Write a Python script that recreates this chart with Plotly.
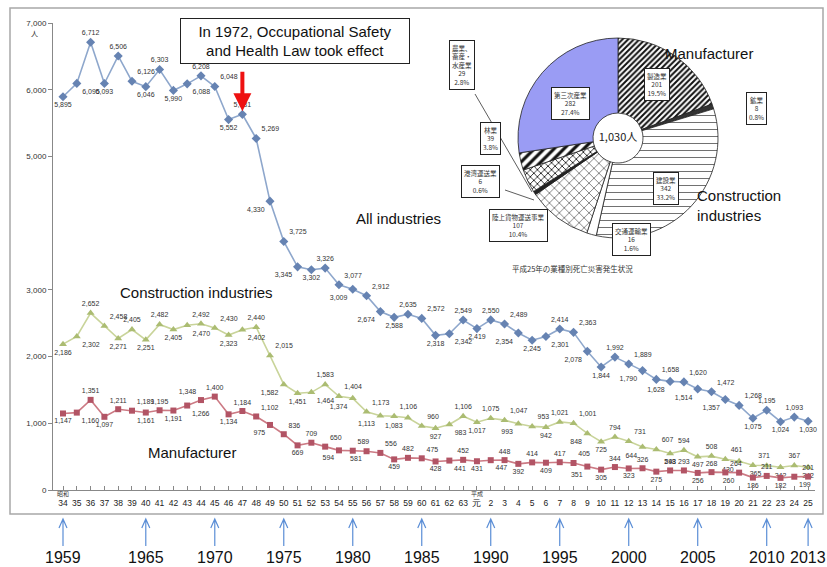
import plotly.graph_objects as go

# ---------------- data ----------------
years = list(range(1959, 2014))
era_ticks = [str(n) for n in range(34, 64)] + ["元"] + [str(n) for n in range(2, 26)]

all_industries = [5895, 6095, 6712, 6093, 6506, 6126, 6046, 6303, 5990, 6088,
                  6208, 6048, 5552, 5631, 5269, 4330, 3725, 3345, 3302, 3326,
                  3077, 3009, 2912, 2674, 2588, 2635, 2572, 2318, 2342, 2549,
                  2419, 2550, 2489, 2354, 2245, 2301, 2414, 2363, 2078, 1844,
                  1992, 1889, 1790, 1658, 1628, 1620, 1514, 1472, 1357, 1268,
                  1075, 1195, 1024, 1093, 1030]
construction = [2186, 2302, 2652, 2458, 2271, 2405, 2251, 2482, 2405, 2470,
                2492, 2430, 2323, 2402, 2440, 2015, 1582, 1451, 1464, 1583,
                1404, 1374, 1173, 1113, 1106, 1083, 960, 927, 983, 1106,
                1017, 1075, 1047, 993, 953, 942, 1021, 1001, 848, 725,
                794, 731, 644, 607, 548, 594, 497, 508, 461, 430,
                371, 365, 342, 367, 342]
manufacturer = [1147, 1160, 1351, 1097, 1211, 1189, 1161, 1195, 1191, 1266,
                1348, 1400, 1134, 1184, 1102, 975, 836, 669, 709, 650,
                594, 589, 581, 556, 459, 482, 475, 428, 441, 452,
                431, 447, 448, 392, 414, 409, 417, 405, 351, 305,
                344, 323, 326, 275, 293, 293, 256, 268, 264, 260,
                186, 211, 182, 199, 201]

y_ticks = [0, 1000, 2000, 3000, 5000, 6000, 7000]
arrow_years = [1959, 1965, 1970, 1975, 1980, 1985, 1990, 1995, 2000, 2005, 2010, 2013]

pie_labels = ["製造業", "鉱業", "建設業", "交通運輸業", "陸上貨物運送事業",
              "港湾運送業", "林業", "農業、<br>畜産・<br>水産業", "第三次産業"]
pie_values = [201, 8, 342, 16, 107, 6, 39, 29, 282]
pie_pcts = ["19.5%", "0.8%", "33.2%", "1.6%", "10.4%", "0.6%", "3.8%", "2.8%", "27.4%"]
pie_total_text = "1,030人"
pie_title = "平成25年の業種別死亡災害発生状況"

# ---------------- layout helpers ----------------
W, H = 827, 567
L, R, T, B = 53, 12, 23, 77
PW, PH = W - L - R, H - T - B


def px(x):
    return (x - L) / PW


def py(y):
    return (H - B - y) / PH


def label_positions(vals):
    out = []
    n = len(vals)
    flip = False
    prev_kind = None
    for i, v in enumerate(vals):
        p = vals[i - 1] if i > 0 else None
        q = vals[i + 1] if i < n - 1 else None
        is_max = (p is None or v >= p) and (q is None or v >= q)
        is_min = (p is None or v <= p) and (q is None or v <= q)
        if is_max:
            out.append("top center")
            kind = "max"
        elif is_min:
            out.append("bottom center")
            kind = "min"
        else:
            kind = "down" if p > v > q else "up"
            flip = (not flip) if kind == prev_kind else False
            if kind == "down":
                out.append("bottom left" if flip else "top right")
            else:
                out.append("top left" if flip else "bottom right")
        prev_kind = kind
    return out


FONT = "Liberation Sans, Arial, Noto Sans CJK JP, sans-serif"
NARROW = "Liberation Sans Narrow, Arial Narrow, Liberation Sans, sans-serif"
CJK = "Noto Sans CJK JP, sans-serif"

fig = go.Figure()

series = [
    (all_industries, "diamond", 7, "#8ea7cc", "#6683b2"),
    (construction, "triangle-up", 7, "#c9d49a", "#abbc72"),
    (manufacturer, "square", 6, "#cc7a84", "#b25465"),
]
for vals, sym, size, lc, mc in series:
    fig.add_trace(go.Scatter(
        x=years, y=vals, mode="lines+markers+text",
        line=dict(color=lc, width=1.6),
        marker=dict(symbol=sym, size=size, color=mc),
        text=[f"{v:,}" for v in vals],
        textposition=label_positions(vals),
        textfont=dict(size=7, color="#333", family=NARROW),
        cliponaxis=False, showlegend=False, hoverinfo="skip",
    ))

# pie chart inset
pcx, pcy, pr = 618, 138, 100
fig.add_trace(go.Pie(
    labels=[l.replace("<br>", "") for l in pie_labels], values=pie_values,
    sort=False, direction="clockwise", rotation=0, hole=0.25,
    textinfo="none", showlegend=False, hoverinfo="skip",
    domain=dict(x=[px(pcx - pr), px(pcx + pr)], y=[py(pcy + pr), py(pcy - pr)]),
    marker=dict(
        colors=["white", "#333", "white", "white", "white", "#222", "white", "white", "#9a9cf4"],
        line=dict(color="#222", width=0.8),
        pattern=dict(
            shape=["/", "", "-", "", "x", "", "x", "/", ""],
            fgcolor=["#111", "#111", "#333", "#111", "#222", "#111", "#111", "#111", "#111"],
            size=[4, 4, 7, 4, 7, 4, 5, 7, 4],
            solidity=[0.5, 0.3, 0.1, 0.3, 0.15, 0.3, 0.3, 0.45, 0.3],
        ),
    ),
    title=dict(text=pie_total_text, position="middle center",
               font=dict(size=11, color="#222", family=CJK)),
))

annotations = []
shapes = []

# pie callout boxes (pixel centres)
box_pos = [(657, 84), (756, 109), (666, 188), (631, 240), (518, 225),
           (480, 181), (490, 138), (462, 65), (570, 104)]
for lab, v, pc, (bx, by) in zip(pie_labels, pie_values, pie_pcts, box_pos):
    annotations.append(dict(
        x=px(bx), y=py(by), xref="paper", yref="paper", showarrow=False,
        xanchor="center", yanchor="middle",
        text=f"{lab}<br>{v}<br>{pc}", align="center",
        font=dict(size=6.5, color="#333", family=CJK),
        bgcolor="white", bordercolor="#222", borderwidth=1, borderpad=2,
    ))

# leader lines for small slices
for (x0, y0, x1, y1) in [(475, 94, 532, 192), (505, 190, 534, 200)]:
    shapes.append(dict(type="line", xref="paper", yref="paper",
                       x0=px(x0), y0=py(y0), x1=px(x1), y1=py(y1),
                       line=dict(color="#333", width=0.8)))

annotations.append(dict(x=px(572), y=py(268), xref="paper", yref="paper",
                        xanchor="center", yanchor="middle",
                        showarrow=False, text=pie_title,
                        font=dict(size=7.5, color="#333", family=CJK)))

# english labels
for txt, x, y, anc in [("Manufacturer", 663, 54, "left"),
                       ("Construction<br>industries", 695, 206, "left"),
                       ("All industries", 398, 218, "center"),
                       ("Construction industries", 196, 292, "center"),
                       ("Manufacturer", 192, 452, "center")]:
    annotations.append(dict(x=px(x), y=py(y), xref="paper", yref="paper",
                            showarrow=False, text=txt, xanchor=anc, yanchor="middle",
                            align="left",
                            font=dict(size=15, color="#111", family=FONT)))

# 1972 annotation box and red arrow
annotations.append(dict(
    x=px(295), y=py(41), xref="paper", yref="paper", showarrow=False,
    xanchor="center", yanchor="middle",
    text="In 1972, Occupational Safety<br>and Health Law took effect",
    font=dict(size=15, color="#111", family=FONT), width=222, height=38,
    bgcolor="white", bordercolor="#222", borderwidth=1, borderpad=3,
))
annotations.append(dict(
    x=1972, y=all_industries[years.index(1972)], xref="x", yref="y",
    ax=0, ay=-44, showarrow=True, arrowhead=2, arrowsize=0.9, arrowwidth=4,
    arrowcolor="#ee1111", standoff=3, text="",
))

# era labels and unit
annotations.append(dict(x=1959, y=py(493), xref="x", yref="paper", showarrow=False,
                        xanchor="center", yanchor="middle",
                        text="昭和", font=dict(size=6, color="#333", family=CJK)))
annotations.append(dict(x=1989, y=py(493), xref="x", yref="paper", showarrow=False,
                        xanchor="center", yanchor="middle",
                        text="平成", font=dict(size=6, color="#333", family=CJK)))
annotations.append(dict(x=px(34), y=py(33), xref="paper", yref="paper", showarrow=False,
                        xanchor="center", yanchor="middle",
                        text="人", font=dict(size=7, color="#333", family=CJK)))

# blue arrows and western year labels
for yr in arrow_years:
    shapes.append(dict(
        type="path", xref="x", yref="paper", xsizemode="pixel", xanchor=yr,
        path=f"M0,{py(546)} L0,{py(519)} M-4,{py(528)} L0,{py(519)} L4,{py(528)}",
        line=dict(color="#5b8ed6", width=1.2),
    ))
    annotations.append(dict(x=yr, y=py(557), xref="x", yref="paper", showarrow=False,
                            xanchor="center", yanchor="middle",
                            text=str(yr), font=dict(size=16, color="#111", family=NARROW)))

# outer frame
shapes.append(dict(type="rect", xref="paper", yref="paper",
                   x0=px(10), x1=px(823), y0=py(514), y1=py(8),
                   line=dict(color="#a8a8a8", width=1.5), layer="below"))

fig.update_layout(
    width=W, height=H, margin=dict(l=L, r=R, t=T, b=B),
    paper_bgcolor="white", plot_bgcolor="white",
    font=dict(family=FONT, color="#333"),
    annotations=annotations, shapes=shapes, showlegend=False,
    xaxis=dict(range=[1958.275, 2013.5], tickvals=years, ticktext=era_ticks,
               showgrid=False, zeroline=False, showline=True, linecolor="#888",
               ticks="inside", ticklen=4, tickcolor="#888",
               tickfont=dict(size=8.5, color="#222", family=NARROW),
               ticklabelstandoff=5),
    yaxis=dict(range=[0, 7000], tickvals=y_ticks, ticktext=[f"{v:,}" for v in y_ticks],
               showgrid=False, zeroline=False, showline=True, linecolor="#888",
               ticks="outside", ticklen=4, tickcolor="#888",
               tickfont=dict(size=8, color="#333", family=NARROW)),
)

fig.write_html("out.html", config={"displayModeBar": False},
               post_script="document.body.style.margin='0';")
